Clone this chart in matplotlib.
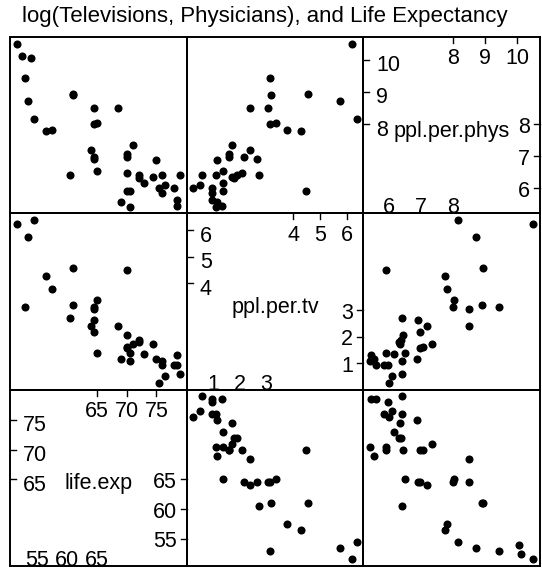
import numpy as np
import matplotlib
matplotlib.use("Agg")
import matplotlib.pyplot as plt
from matplotlib.transforms import blended_transform_factory

plt.rcParams["font.family"] = ["Liberation Sans", "DejaVu Sans"]

# Televisions, physicians and life expectancy (40 countries, NaN = missing)
life_exp = [70.5, 53.5, 65, 76.5, 70, 71, 60.5, 51.5, 78, 76, 57.5, 61, 64.5, 78.5,
            79, 61, 70, 70, 72, 64.5, 54.5, 56.5, 64.5, 64.5, 73, 72, 69, 64, 78.5,
            53, 75, 52.5, 68.5, 70, 70.5, 76, 75.5, 74.5, 65, 54]
ppl_per_tv = [4, 315, 4, 1.7, 8, 5.6, 15, 503, 2.6, 2.6, 44, 24, 23, 3.8, 1.8, 96,
              90, 4.9, 6.6, 21, 592, 73, 14, 8.8, 3.9, 6, 3.2, 11, 2.6, 23, 3.2,
              np.nan, 11, 5, 3, 3, 1.3, 5.6, 29, np.nan]
ppl_per_phys = [370, 6166, 684, 449, 643, 1551, 616, 36660, 403, 346, 2471, 7427,
                2992, 233, 609, 7615, 370, 1066, 600, 4873, 3485, 2364, 1016, 1062,
                480, 559, 259, 1340, 275, 12550, 965, 25229, 4883, 1189, 226, 611,
                404, 576, 3096, 23193]

var_names = ["life.exp", "ppl.per.tv", "ppl.per.phys"]
tick_lo = [[55, 60, 65], [1, 2, 3], [6, 7, 8]]
tick_hi = [[65, 70, 75], [4, 5, 6], [8, 9, 10]]

values = [np.array(life_exp, float),
          np.log(np.array(ppl_per_tv, float)),
          np.log(np.array(ppl_per_phys, float))]

def limits(v):
    lo, hi = np.nanmin(v), np.nanmax(v)
    pad = (hi - lo) * 0.04
    return lo - pad, hi + pad

lims = [limits(v) for v in values]

W, H = 542, 569
fig = plt.figure(figsize=(W / 100, H / 100), dpi=100)

xs = [10, 186.7, 363.3, 540]
ys = [37, 213.3, 389.7, 566]
FS = 15.5
TL = 6  # tick length px

fig.text(264.5 / W, 1 - 22 / H, "log(Televisions, Physicians), and Life Expectancy",
         ha="center", va="baseline", fontsize=16)

for r in range(3):
    for c in range(3):
        x0, x1 = xs[c], xs[c + 1]
        y0, y1 = ys[r], ys[r + 1]
        ax = fig.add_axes([x0 / W, 1 - y1 / H, (x1 - x0) / W, (y1 - y0) / H])
        ax.patch.set_visible(False)
        ax.set_xticks([])
        ax.set_yticks([])
        for s in ax.spines.values():
            s.set_linewidth(1.4)
        yv = 2 - r
        xv = c
        ax.set_xlim(*lims[xv])
        ax.set_ylim(*lims[yv])
        pw, ph = x1 - x0, y1 - y0
        if xv == yv:
            ax.text(0.5, 0.5 - 6 / ph, var_names[xv], transform=ax.transAxes,
                    ha="center", va="center", fontsize=FS)
            tx = blended_transform_factory(ax.transData, ax.transAxes)
            ty = blended_transform_factory(ax.transAxes, ax.transData)
            px = (lims[yv][1] - lims[yv][0]) / ph  # data units per pixel
            for t in tick_hi[xv]:
                ax.plot([t, t], [1, 1 - TL / ph], color="black", lw=1, transform=tx, clip_on=False)
                ax.text(t, 1 - 27.5 / ph, str(t), transform=tx, ha="center",
                        va="baseline", fontsize=FS)
            for t in tick_lo[xv]:
                ax.text(t, 0 / ph, str(t), transform=tx, ha="center",
                        va="baseline", fontsize=FS, zorder=1)
            for t in tick_hi[yv]:
                ax.plot([0, TL / pw], [t, t], color="black", lw=1, transform=ty, clip_on=False)
                ax.text(13 / pw, t - 6 * px, str(t), transform=ty, ha="left",
                        va="center", fontsize=FS)
            for t in tick_lo[yv]:
                ax.plot([1, 1 - TL / pw], [t, t], color="black", lw=1, transform=ty, clip_on=False)
                ax.text(1 - 10 / pw, t - 3 * px, str(t), transform=ty, ha="right",
                        va="center", fontsize=FS)
        else:
            ax.plot(values[xv], values[yv], "o", color="black", ms=5.8, mew=0)

fig.savefig("out.png", dpi=100)
